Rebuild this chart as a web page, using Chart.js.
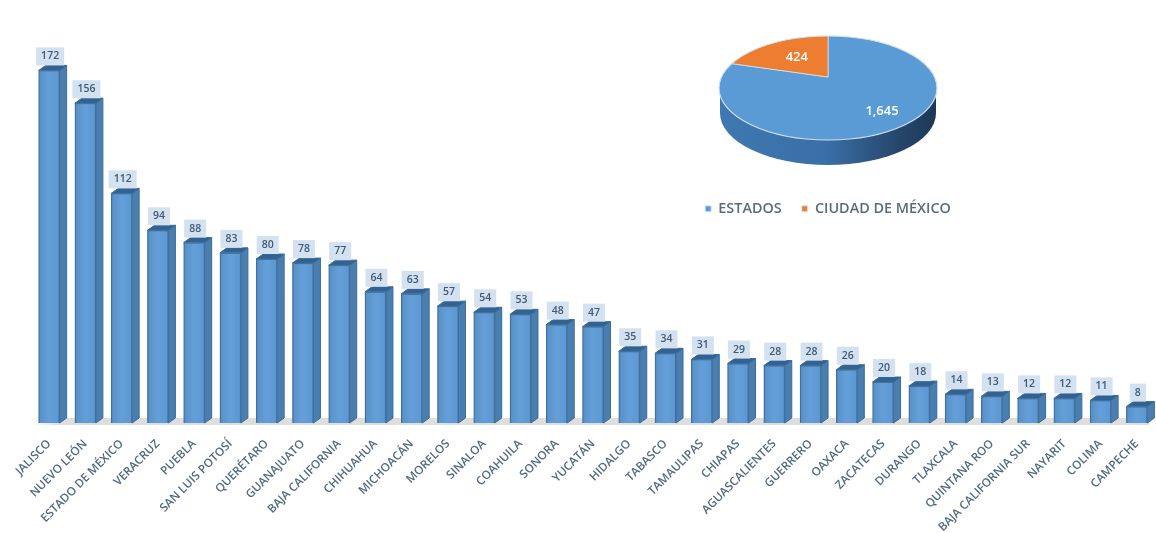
<!DOCTYPE html>
<html>
<head>
<meta charset="utf-8">
<script src="https://cdn.jsdelivr.net/npm/chart.js@4"></script>
<style>
  html, body { margin: 0; padding: 0; background: #fff; overflow: hidden; }
  #wrap { position: relative; width: 1156px; height: 533px; }
  #barras { position: absolute; left: 0; top: 0; filter: blur(0.6px); }
  #pastel { position: absolute; left: 658px; top: 0; filter: blur(0.45px); }
</style>
</head>
<body>
<div id="wrap">
  <canvas id="barras" width="1156" height="533"></canvas>
  <canvas id="pastel" width="340" height="226"></canvas>
</div>
<script>
const estados = ['JALISCO', 'NUEVO LEÓN', 'ESTADO DE MÉXICO', 'VERACRUZ', 'PUEBLA', 'SAN LUIS POTOSÍ',
  'QUERÉTARO', 'GUANAJUATO', 'BAJA CALIFORNIA', 'CHIHUAHUA', 'MICHOACÁN', 'MORELOS', 'SINALOA',
  'COAHUILA', 'SONORA', 'YUCATÁN', 'HIDALGO', 'TABASCO', 'TAMAULIPAS', 'CHIAPAS', 'AGUASCALIENTES',
  'GUERRERO', 'OAXACA', 'ZACATECAS', 'DURANGO', 'TLAXCALA', 'QUINTANA ROO', 'BAJA CALIFORNIA SUR',
  'NAYARIT', 'COLIMA', 'CAMPECHE'];
const totales = [172, 156, 112, 94, 88, 83, 80, 78, 77, 64, 63, 57, 54, 53, 48, 47, 35, 34, 31, 29, 28,
  28, 26, 20, 18, 14, 13, 12, 12, 11, 8];

const pastelLabels = ['ESTADOS', 'CIUDAD DE MÉXICO'];
const pastelValores = [1645, 424];

// profundidad de la cara lateral y superior
const dx = 7;
const dy = 5;

const barras3d = {
  id: 'barras3d',
  beforeDatasetsDraw(chart) {
    const ctx = chart.ctx;
    const area = chart.chartArea;
    const base = chart.scales.y.getPixelForValue(0);

    // piso gris
    const piso = ctx.createLinearGradient(area.left, 0, area.left + 30, 0);
    piso.addColorStop(0, 'rgba(222,220,218,0)');
    piso.addColorStop(1, '#dfdedd');
    ctx.fillStyle = piso;
    ctx.fillRect(area.left, base - 5, area.right - area.left - 6, 7);

    chart.getDatasetMeta(0).data.forEach((bar) => {
      const r = bar.x + bar.width / 2;
      ctx.fillStyle = '#4a7eaf';
      ctx.strokeStyle = '#3a6c9c';
      ctx.lineWidth = 1;
      ctx.beginPath();
      ctx.moveTo(r, bar.y);
      ctx.lineTo(r + dx, bar.y - dy);
      ctx.lineTo(r + dx, bar.base - dy);
      ctx.lineTo(r, bar.base);
      ctx.closePath();
      ctx.fill();
      ctx.stroke();

      ctx.fillStyle = '#336291';
      ctx.beginPath();
      ctx.moveTo(bar.x - bar.width / 2, bar.y);
      ctx.lineTo(bar.x - bar.width / 2 + dx, bar.y - dy);
      ctx.lineTo(r + dx, bar.y - dy);
      ctx.lineTo(r, bar.y);
      ctx.closePath();
      ctx.fill();
      ctx.stroke();
    });
  },
  afterDatasetsDraw(chart) {
    const ctx = chart.ctx;
    ctx.save();
    ctx.font = '600 10.5px "Open Sans"';
    ctx.textAlign = 'center';
    ctx.textBaseline = 'middle';
    chart.getDatasetMeta(0).data.forEach((bar, i) => {
      const texto = String(totales[i]);
      const l = bar.x - bar.width / 2 + 1;
      const w = bar.width - 2;

      // brillo del frente
      const g = ctx.createLinearGradient(l, 0, l + w, 0);
      g.addColorStop(0, 'rgba(84,137,186,0.6)');
      g.addColorStop(0.5, 'rgba(108,165,222,0.45)');
      g.addColorStop(1, 'rgba(90,148,204,0.45)');
      ctx.fillStyle = g;
      ctx.fillRect(l, bar.y + 1, w, bar.base - bar.y - 2);

      // etiqueta con fondo
      const ancho = ctx.measureText(texto).width + 10;
      const cx = bar.x + 1;
      const bottom = bar.y - dy;
      ctx.fillStyle = '#d3e1f0';
      ctx.fillRect(cx - ancho / 2, bottom - 18, ancho, 18);
      ctx.fillStyle = '#3f5a76';
      ctx.fillText(texto, cx, bottom - 9);
    });
    ctx.restore();
  },
};

function graficaBarras(canvasId) {
  return new Chart(document.getElementById(canvasId), {
    type: 'bar',
    data: {
      labels: estados,
      datasets: [
        {
          data: totales,
          backgroundColor: '#5e9ad6',
          borderColor: '#41729f',
          borderWidth: 1.5,
          barThickness: 21,
        },
      ],
    },
    plugins: [barras3d],
    options: {
      responsive: false,
      animation: false,
      layout: { padding: { left: 31, right: 1, top: 13, bottom: 0 } },
      plugins: { legend: { display: false }, tooltip: { enabled: false } },
      scales: {
        y: { display: false, min: 0, max: 200 },
        x: {
          grid: { display: false },
          border: { display: false },
          afterFit(scale) {
            scale.height = 110;
          },
          ticks: {
            autoSkip: false,
            minRotation: 45,
            maxRotation: 45,
            padding: 6,
            color: '#516a82',
            font: { family: 'Open Sans', size: 11.7, weight: '600' },
          },
        },
      },
    },
  });
}

// el pastel se aplasta como elipse, con el vértice arriba del centro
const centroX = 170;
const vertice = 77;
const elipseY = 88;
const rx = 109;
const ry = 52;
const grosor = 25;
const aplastado = 0.477;
const radioEtiqueta = [90, 52];

const pastel3d = {
  id: 'pastel3d',
  beforeDatasetsDraw(chart) {
    const ctx = chart.ctx;
    const arco = chart.getDatasetMeta(0).data[0];

    const g = ctx.createLinearGradient(centroX - rx, 0, centroX + rx, 0);
    g.addColorStop(0, '#3f78b0');
    g.addColorStop(0.5, '#3a6ea6');
    g.addColorStop(0.8, '#27496f');
    g.addColorStop(1, '#1d3856');
    ctx.fillStyle = g;
    ctx.beginPath();
    ctx.ellipse(centroX, elipseY + grosor, rx - 1, ry, 0, 0, Math.PI);
    ctx.lineTo(centroX - rx + 1, elipseY);
    ctx.lineTo(centroX + rx - 1, elipseY);
    ctx.closePath();
    ctx.fill();

    ctx.save();
    ctx.beginPath();
    ctx.ellipse(centroX, elipseY, rx, ry, 0, 0, Math.PI * 2);
    ctx.clip();
    ctx.translate(centroX, vertice);
    ctx.scale(1, aplastado);
    ctx.translate(-arco.x, -arco.y);
  },
  afterDatasetsDraw(chart) {
    const ctx = chart.ctx;
    ctx.restore();

    ctx.strokeStyle = '#cfe0f2';
    ctx.lineWidth = 1.2;
    ctx.beginPath();
    ctx.ellipse(centroX, elipseY, rx, ry, 0, 0, Math.PI * 2);
    ctx.stroke();

    ctx.save();
    ctx.font = '600 13px "Open Sans"';
    ctx.fillStyle = '#fff';
    ctx.textAlign = 'center';
    ctx.textBaseline = 'middle';
    chart.getDatasetMeta(0).data.forEach((arco, i) => {
      const medio = (arco.startAngle + arco.endAngle) / 2;
      const x = centroX + Math.cos(medio) * radioEtiqueta[i];
      const y = vertice + Math.sin(medio) * radioEtiqueta[i] * aplastado;
      ctx.fillText(pastelValores[i].toLocaleString('en-US'), x, y);
    });
    ctx.restore();
  },
};

function graficaPastel(canvasId) {
  return new Chart(document.getElementById(canvasId), {
    type: 'pie',
    data: {
      labels: pastelLabels,
      datasets: [
        {
          data: pastelValores,
          backgroundColor: ['#5b9bd5', '#ed7d31'],
          borderColor: '#dbe7f3',
          borderWidth: 1,
          radius: 170,
          clip: false,
        },
      ],
    },
    plugins: [pastel3d],
    options: {
      responsive: false,
      animation: false,
      plugins: {
        tooltip: { enabled: false },
        legend: {
          position: 'bottom',
          labels: {
            boxWidth: 6,
            boxHeight: 6,
            padding: 20,
            color: '#5a6b7c',
            font: { family: 'Open Sans', size: 14.4, weight: '600' },
          },
        },
      },
    },
  });
}

graficaBarras('barras');
graficaPastel('pastel');
</script>
</body>
</html>
